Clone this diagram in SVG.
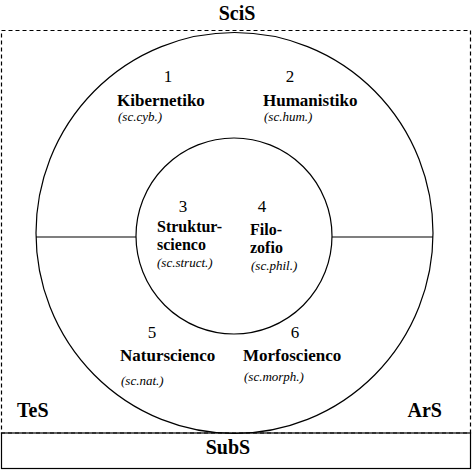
<svg xmlns="http://www.w3.org/2000/svg" width="474" height="470" viewBox="0 0 474 470">
<style>
.ln{fill:none;stroke:#000;stroke-width:1.2}
.big{font-family:"Liberation Serif","Times New Roman",serif;font-weight:bold;font-size:20px;fill:#000}
.num{font-family:"Liberation Serif","Times New Roman",serif;font-size:17px;fill:#000}
.lb{font-family:"Liberation Serif","Times New Roman",serif;font-weight:bold;font-size:17px;fill:#000}
.lb2{font-family:"Liberation Serif","Times New Roman",serif;font-weight:bold;font-size:16px;fill:#000}
.it{font-family:"Liberation Serif","Times New Roman",serif;font-style:italic;font-size:13px;fill:#000}
</style>
<rect width="474" height="470" fill="#fff"/>
<g id="frame">
<rect x="1.5" y="30.5" width="469" height="402.5" fill="none" stroke="#000" stroke-width="1.2" stroke-dasharray="4,3"/>
<rect x="1.5" y="433" width="469" height="35.5" class="ln"/>
<text class="big" x="237" y="20" text-anchor="middle">SciS</text>
<text class="big" x="228" y="454" text-anchor="middle">SubS</text>
<text class="big" x="17" y="417">TeS</text>
<text class="big" x="442" y="417" text-anchor="end">ArS</text>
</g>
<g id="connectors">
<ellipse class="ln" cx="234.5" cy="233" rx="198.5" ry="200.5"/>
<circle class="ln" cx="234" cy="236" r="98"/>
<line class="ln" x1="36" y1="237" x2="136" y2="237"/>
<line class="ln" x1="332" y1="237" x2="433" y2="237"/>
</g>
<g id="n1">
<text class="num" x="168" y="82" text-anchor="middle">1</text>
<text class="lb" x="117" y="106">Kibernetiko</text>
<text class="it" x="118" y="121">(sc.cyb.)</text>
</g>
<g id="n2">
<text class="num" x="290" y="82" text-anchor="middle">2</text>
<text class="lb" x="263" y="106">Humanistiko</text>
<text class="it" x="264" y="121">(sc.hum.)</text>
</g>
<g id="n3">
<text class="num" x="183" y="212" text-anchor="middle">3</text>
<text class="lb2" x="157" y="232">Struktur-</text>
<text class="lb2" x="157" y="250">scienco</text>
<text class="it" x="157" y="267">(sc.struct.)</text>
</g>
<g id="n4">
<text class="num" x="262" y="212" text-anchor="middle">4</text>
<text class="lb2" x="250" y="235">Filo-</text>
<text class="lb2" x="250" y="253">zofio</text>
<text class="it" x="251" y="270">(sc.phil.)</text>
</g>
<g id="n5">
<text class="num" x="152" y="338" text-anchor="middle">5</text>
<text class="lb" x="120" y="361">Naturscienco</text>
<text class="it" x="121" y="385">(sc.nat.)</text>
</g>
<g id="n6">
<text class="num" x="295" y="338" text-anchor="middle">6</text>
<text class="lb" x="243" y="361">Morfoscienco</text>
<text class="it" x="244" y="381">(sc.morph.)</text>
</g>
</svg>
